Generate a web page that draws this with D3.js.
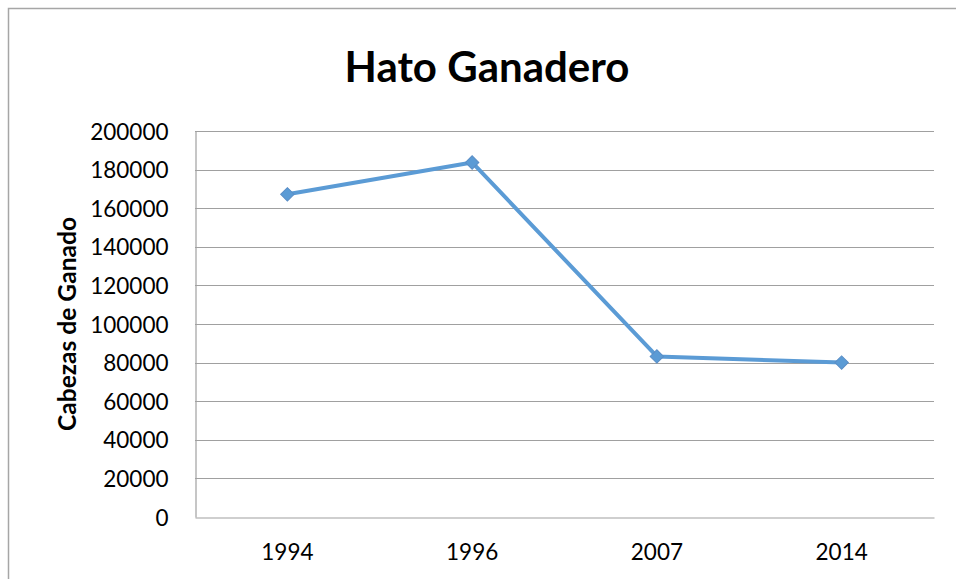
<!DOCTYPE html>
<html>
<head>
<meta charset="utf-8">
<script src="https://cdn.jsdelivr.net/npm/d3@7"></script>
<style>
  html, body { margin: 0; padding: 0; background: #fff; overflow: hidden; }
  svg { display: block; }
</style>
</head>
<body>
<div id="chart"></div>
<script>
// data
const years = ['1994', '1996', '2007', '2014']
const cabezas = [167200, 183700, 83200, 80000]
const yTicks = [0, 20000, 40000, 60000, 80000, 100000, 120000, 140000, 160000, 180000, 200000]

const W = 956, H = 579
const plot = { left: 195, right: 934, top: 131, bottom: 517 }
const lineColor = '#5b9bd5'

const svg = d3.select('#chart').append('svg')
  .attr('width', W)
  .attr('height', H)

// chart frame (runs off right and bottom of the window)
svg.append('rect')
  .attr('x', 8.5).attr('y', 8.5)
  .attr('width', W + 20).attr('height', H + 20)
  .attr('fill', '#fff')
  .attr('stroke', '#a6a6a6')
  .attr('stroke-width', 1.5)

const x = d3.scaleBand()
  .domain(years)
  .range([plot.left, plot.right])

const y = d3.scaleLinear()
  .domain([0, 200000])
  .range([plot.bottom, plot.top])

// gridlines
svg.append('g')
  .selectAll('line')
  .data(yTicks.filter(d => d > 0))
  .join('line')
  .attr('x1', plot.left).attr('x2', plot.right)
  .attr('y1', d => Math.round(y(d)) + 0.5)
  .attr('y2', d => Math.round(y(d)) + 0.5)
  .attr('stroke', '#a0a0a0')
  .attr('stroke-width', 1.2)

// y axis
const yAxis = svg.append('g')
  .attr('transform', `translate(${plot.left + 0.5},0)`)
  .call(d3.axisLeft(y).tickValues(yTicks).tickSize(0).tickPadding(27).tickFormat(d3.format('d')))
yAxis.select('.domain').attr('stroke', '#a0a0a0').attr('stroke-width', 1.2)
yAxis.selectAll('text')
  .attr('font-family', 'Lato, sans-serif')
  .attr('font-size', 22.5)
  .attr('fill', '#000')
  .attr('dy', '0.36em')

// x axis
const xAxis = svg.append('g')
  .attr('transform', `translate(0,${Math.round(plot.bottom) + 0.5})`)
  .call(d3.axisBottom(x).tickSize(0).tickPadding(27))
xAxis.select('.domain').attr('stroke', '#a0a0a0').attr('stroke-width', 1.2)
xAxis.selectAll('text')
  .attr('font-family', 'Lato, sans-serif')
  .attr('font-size', 22.5)
  .attr('fill', '#000')

// title
svg.append('text')
  .attr('x', 487)
  .attr('y', 82)
  .attr('text-anchor', 'middle')
  .attr('font-family', 'Lato, sans-serif')
  .attr('font-weight', 'bold')
  .attr('font-size', 42)
  .text('Hato Ganadero')

// y axis title
svg.append('text')
  .attr('transform', `translate(76,${(plot.top + plot.bottom) / 2}) rotate(-90)`)
  .attr('text-anchor', 'middle')
  .attr('font-family', 'Lato, sans-serif')
  .attr('font-weight', 'bold')
  .attr('font-size', 24)
  .attr('textLength', 214)
  .attr('lengthAdjust', 'spacingAndGlyphs')
  .text('Cabezas de Ganado')

// series
const pts = years.map((yr, i) => ({ yr, v: cabezas[i] }))
const cx = d => x(d.yr) + x.bandwidth() / 2

svg.append('path')
  .datum(pts)
  .attr('fill', 'none')
  .attr('stroke', lineColor)
  .attr('stroke-width', 4)
  .attr('stroke-linejoin', 'round')
  .attr('d', d3.line().x(cx).y(d => y(d.v)))

svg.append('g')
  .selectAll('path')
  .data(pts)
  .join('path')
  .attr('transform', d => `translate(${cx(d)},${y(d.v)}) rotate(45)`)
  .attr('d', d3.symbol().type(d3.symbolSquare).size(90))
  .attr('fill', lineColor)
  .attr('stroke', '#5a8ec6')
  .attr('stroke-width', 1)
</script>
</body>
</html>
